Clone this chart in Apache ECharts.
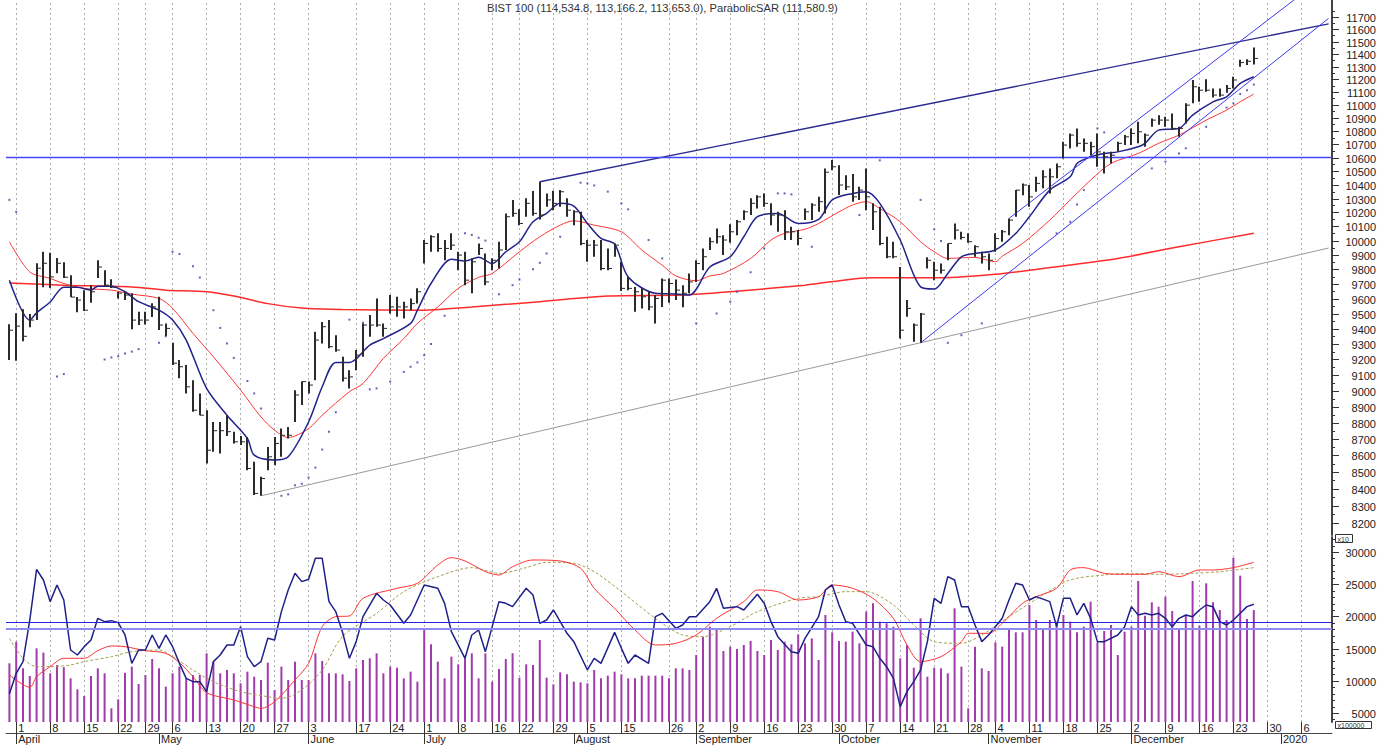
<!DOCTYPE html>
<html lang="en">
<head>
<meta charset="utf-8"/>
<title>BIST 100</title>
<script src="https://cdn.jsdelivr.net/npm/echarts@6/dist/echarts.min.js"></script>
<style>
    html, body { margin: 0; padding: 0; background: #fff; }
    #main { width: 1390px; height: 747px; }
</style>
</head>
<body>
<div id="main"></div>
<script>
    // trading days (Turkish holidays left out), future days at the end
    var monthDays = [
        ['2019-03', [29]],
        ['2019-04', [1, 2, 3, 4, 5, 8, 9, 10, 11, 12, 15, 16, 17, 18, 19, 22, 24, 25, 26, 29, 30]],
        ['2019-05', [2, 3, 6, 7, 8, 9, 10, 13, 14, 15, 16, 17, 20, 21, 22, 23, 24, 27, 28, 29, 30, 31]],
        ['2019-06', [3, 4, 10, 11, 12, 13, 14, 17, 18, 19, 20, 21, 24, 25, 26, 27, 28]],
        ['2019-07', [1, 2, 3, 4, 5, 8, 9, 10, 11, 12, 16, 17, 18, 19, 22, 23, 24, 25, 26, 29, 30, 31]],
        ['2019-08', [1, 2, 5, 6, 7, 8, 9, 15, 16, 19, 20, 21, 22, 23, 26, 27, 28, 29]],
        ['2019-09', [2, 3, 4, 5, 6, 9, 10, 11, 12, 13, 16, 17, 18, 19, 20, 23, 24, 25, 26, 27, 30]],
        ['2019-10', [1, 2, 3, 4, 7, 8, 9, 10, 11, 14, 15, 16, 17, 18, 21, 22, 23, 24, 25, 28, 30, 31]],
        ['2019-11', [1, 4, 5, 6, 7, 8, 11, 12, 13, 14, 15, 18, 19, 20, 21, 22, 25, 26, 27, 28, 29]],
        ['2019-12', [2, 3, 4, 5, 6, 9, 10, 11, 12, 13, 16, 17, 18, 19, 20, 23, 24, 25, 26, 27, 30, 31]],
        ['2020-01', [1, 2, 3, 6, 7, 8, 9, 10]]
    ];

    var weekTicks = ['2019-04-01', '2019-04-08', '2019-04-15', '2019-04-22', '2019-04-29', '2019-05-06',
        '2019-05-13', '2019-05-20', '2019-05-27', '2019-06-03', '2019-06-17', '2019-06-24', '2019-07-01',
        '2019-07-08', '2019-07-16', '2019-07-22', '2019-07-29', '2019-08-05', '2019-08-15', '2019-08-26',
        '2019-09-02', '2019-09-09', '2019-09-16', '2019-09-23', '2019-09-30', '2019-10-07', '2019-10-14',
        '2019-10-21', '2019-10-28', '2019-11-04', '2019-11-11', '2019-11-18', '2019-11-25', '2019-12-02',
        '2019-12-09', '2019-12-16', '2019-12-23', '2019-12-30', '2020-01-06'];
    var monthTicks = ['2019-04-01', '2019-05-02', '2019-06-03', '2019-07-01', '2019-08-01', '2019-09-02',
        '2019-10-01', '2019-11-01', '2019-12-02', '2020-01-01'];
    var monthNames = ['April', 'May', 'June', 'July', 'August', 'September', 'October', 'November', 'December', '2020'];

    var priceTicks = [8200, 8300, 8400, 8500, 8600, 8700, 8800, 8900, 9000, 9100, 9200, 9300, 9400, 9500,
        9600, 9700, 9800, 9900, 10000, 10100, 10200, 10300, 10400, 10500, 10600, 10700, 10800, 10900,
        11000, 11100, 11200, 11300, 11400, 11500, 11600, 11700];
    var volTicks = [5000, 10000, 15000, 20000, 25000, 30000];

    // daily bars (x10), Mar 29 .. Dec 26
    var highs = [9430, 9503, 9530, 9497, 9842, 9922, 9915, 9878, 9849, 9760,
        9611, 9658, 9692, 9863, 9794, 9732, 9647, 9647, 9637, 9512,
        9512, 9570, 9613, 9435, 9307, 9195, 9163, 9066, 8982, 8877,
        8804, 8804, 8846, 8744, 8717, 8712, 8561, 8471, 8651, 8712,
        8763, 8773, 9003, 9057, 9057, 9380, 9445, 9457, 9357, 9216,
        9130, 9260, 9435, 9490, 9602, 9435, 9625, 9613, 9580, 9602,
        9670, 10004, 10038, 10051, 10004, 10051, 9922, 9922, 9876, 9980,
        9910, 9876, 9992, 10193, 10290, 10222, 10301, 10354, 10422, 10337,
        10356, 10361, 10301, 10216, 10204, 10004, 10004, 10004, 9945, 9980,
        9852, 9748, 9680, 9670, 9647, 9625, 9738, 9738, 9731, 9692,
        9772, 9863, 9945, 10022, 10086, 10038, 10116, 10145, 10216, 10301,
        10324, 10337, 10265, 10204, 10216, 10097, 10074, 10228, 10265, 10312,
        10520, 10582, 10544, 10470, 10478, 10385, 10520, 10265, 10240, 10027,
        9992, 9816, 9591, 9435, 9505, 9883, 9852, 9840, 9980, 10121,
        10062, 10051, 9968, 9922, 9910, 10051, 10074, 10157, 10361, 10410,
        10398, 10458, 10507, 10520, 10557, 10719, 10782, 10820, 10744, 10719,
        10782, 10643, 10643, 10719, 10769, 10820, 10870, 10782, 10896, 10921,
        10908, 10934, 10832, 11012, 11194, 11141, 11199, 11128, 11128, 11154,
        11220, 11354, 11359, 11453];
    var lows = [9195, 9190, 9318, 9410, 9457, 9678, 9672, 9774, 9740, 9611,
        9510, 9517, 9572, 9740, 9680, 9672, 9602, 9591, 9397, 9424,
        9428, 9477, 9391, 9352, 9163, 9078, 8982, 8867, 8846, 8551,
        8621, 8611, 8717, 8672, 8662, 8511, 8363, 8359, 8511, 8541,
        8591, 8702, 8804, 8909, 8982, 9066, 9303, 9271, 9249, 9057,
        9014, 9130, 9216, 9347, 9413, 9347, 9501, 9479, 9468, 9523,
        9567, 9840, 9922, 9922, 9863, 9934, 9794, 9692, 9637, 9899,
        9692, 9794, 9806, 9934, 10169, 10109, 10169, 10176, 10150, 10240,
        10216, 10240, 10169, 10109, 9968, 9852, 9887, 9794, 9794, 9887,
        9653, 9658, 9512, 9535, 9523, 9435, 9545, 9572, 9591, 9542,
        9637, 9714, 9794, 9934, 9980, 9899, 9985, 10038, 10145, 10181,
        10228, 10240, 10109, 10062, 10004, 10004, 9968, 10145, 10145, 10204,
        10193, 10507, 10325, 10361, 10277, 10290, 10216, 10074, 9968, 9876,
        9876, 9335, 9479, 9314, 9307, 9806, 9726, 9772, 9863, 10008,
        10008, 9985, 9887, 9840, 9794, 9922, 9992, 10038, 10169, 10324,
        10240, 10349, 10374, 10337, 10447, 10594, 10669, 10682, 10643, 10618,
        10532, 10483, 10557, 10643, 10694, 10694, 10707, 10682, 10832, 10847,
        10832, 10807, 10756, 10858, 11012, 11024, 11102, 11058, 11063, 11094,
        11128, 11298, 11312, 11317];
    var closes = [9390, 9417, 9350, 9457, 9808, 9842, 9748, 9842, 9746, 9611,
        9591, 9523, 9647, 9816, 9692, 9678, 9638, 9625, 9457, 9457,
        9457, 9545, 9424, 9402, 9175, 9152, 9024, 8877, 8846, 8631,
        8750, 8750, 8744, 8682, 8682, 8521, 8373, 8461, 8591, 8672,
        8722, 8722, 8972, 9057, 9035, 9325, 9413, 9282, 9260, 9079,
        9087, 9227, 9424, 9424, 9424, 9402, 9545, 9545, 9545, 9567,
        9647, 9980, 10027, 9945, 9945, 9968, 9899, 9726, 9852, 9945,
        9714, 9863, 9934, 10169, 10193, 10121, 10265, 10193, 10181, 10290,
        10265, 10349, 10216, 10204, 9980, 9968, 9968, 9806, 9806, 9968,
        9670, 9670, 9647, 9613, 9545, 9602, 9726, 9703, 9658, 9637,
        9714, 9840, 9887, 9992, 10027, 10004, 10062, 10133, 10204, 10265,
        10312, 10265, 10181, 10181, 10062, 10062, 10015, 10204, 10253, 10277,
        10492, 10532, 10398, 10385, 10312, 10361, 10312, 10204, 9980, 9887,
        9887, 9390, 9535, 9424, 9497, 9863, 9794, 9794, 9980, 10074,
        10022, 9992, 9957, 9887, 9863, 10015, 10062, 10145, 10361, 10398,
        10312, 10410, 10458, 10458, 10532, 10694, 10769, 10707, 10707, 10682,
        10643, 10606, 10618, 10707, 10756, 10782, 10794, 10769, 10883, 10883,
        10883, 10820, 10820, 10998, 11141, 11114, 11114, 11076, 11076, 11128,
        11194, 11332, 11342, 11365];

    // moving averages: [day index, value]
    var maFast = [[0, 9725], [3, 9457], [4, 9505], [6, 9578], [8, 9678], [10, 9678], [12, 9658], [13, 9685],
        [15, 9685], [17, 9647], [19, 9580], [22, 9523], [24, 9457], [26, 9325], [29, 9014], [32, 8846],
        [35, 8703], [36, 8601], [39, 8572], [41, 8591], [44, 8804], [46, 9024], [48, 9180], [50, 9180],
        [53, 9292], [55, 9335], [59, 9435], [60, 9523], [62, 9703], [65, 9870], [67, 9858], [69, 9883],
        [71, 9840], [73, 9922], [75, 9992], [77, 10133], [79, 10193], [81, 10265], [83, 10245], [85, 10121],
        [87, 10015], [89, 9976], [91, 9748], [95, 9637], [98, 9632], [100, 9625], [103, 9816], [106, 9887],
        [108, 10027], [110, 10169], [113, 10193], [116, 10121], [119, 10150], [121, 10290], [124, 10337],
        [126, 10349], [128, 10265], [131, 10004], [134, 9680], [136, 9665], [138, 9772], [140, 9887],
        [142, 9910], [145, 9934], [148, 10051], [150, 10169], [153, 10361], [156, 10458], [157, 10557],
        [159, 10606], [161, 10631], [163, 10643], [166, 10682], [167, 10707], [169, 10807], [172, 10820],
        [174, 10921], [177, 11024], [179, 11063], [181, 11167], [183, 11220]];
    var maMid = [[0, 9992], [3, 9782], [6, 9738], [8, 9703], [11, 9670], [15, 9658], [18, 9631], [22, 9602],
        [24, 9535], [27, 9369], [30, 9216], [34, 9003], [37, 8835], [39, 8753], [41, 8708], [44, 8763],
        [46, 8846], [50, 8993], [52, 9045], [55, 9206], [58, 9335], [60, 9435], [63, 9545], [66, 9670],
        [69, 9745], [71, 9772], [75, 9922], [78, 10027], [81, 10109], [83, 10140], [86, 10109], [90, 10062],
        [93, 9934], [96, 9829], [98, 9755], [101, 9722], [103, 9755], [105, 9772], [109, 9875], [112, 10004],
        [114, 10051], [117, 10080], [119, 10121], [122, 10204], [124, 10253], [126, 10277], [128, 10228],
        [131, 10133], [134, 9992], [136, 9922], [138, 9876], [142, 9883], [145, 9852], [146, 9891],
        [149, 9980], [153, 10145], [156, 10290], [159, 10434], [162, 10557], [166, 10631], [169, 10707],
        [172, 10769], [176, 10883], [179, 10960], [181, 11024], [183, 11084]];
    var maLong = [[0, 9707], [8, 9692], [18, 9680], [23, 9658], [29, 9647], [33, 9618], [38, 9567],
        [43, 9537], [49, 9527], [60, 9523], [68, 9545], [78, 9580], [88, 9618], [99, 9625], [106, 9647],
        [117, 9692], [127, 9743], [137, 9743], [145, 9766], [152, 9806], [163, 9875], [172, 9957], [183, 10051]];

    var sarDots = [[0, 10290], [1, 10204], [7, 9090], [8, 9105], [14, 9199], [15, 9212], [16, 9220],
        [17, 9238], [18, 9250], [19, 9266], [22, 9307], [23, 9350], [24, 9922], [25, 9906], [27, 9822],
        [28, 9744], [30, 9523], [31, 9405], [32, 9303], [33, 9209], [35, 9061], [36, 8982], [37, 8888],
        [40, 8359], [41, 8367], [42, 8421], [43, 8430], [44, 8467], [45, 8526], [46, 8635], [47, 8744],
        [48, 8864], [50, 9460], [52, 9440], [53, 9008], [54, 9014], [56, 9057], [58, 9119], [59, 9152],
        [60, 9180], [61, 9227], [62, 9299], [64, 9486], [67, 10051], [68, 10040], [69, 10020], [70, 10000],
        [72, 9631], [74, 9692], [75, 9730], [77, 9800], [78, 9845], [79, 9910], [81, 10027], [84, 10415],
        [85, 10410], [86, 10395], [88, 10350], [90, 10265], [91, 10222], [94, 10004], [96, 9876],
        [101, 9435], [104, 9501], [106, 9580], [107, 9647], [109, 9780], [111, 9945], [113, 10337],
        [114, 10337], [115, 10330], [118, 9957], [125, 10181], [128, 10580], [134, 10290], [136, 10080],
        [137, 9998], [138, 9307], [140, 9357], [143, 9435], [154, 10051], [156, 10133], [157, 10256],
        [158, 10361], [160, 10820], [161, 10790], [168, 10520], [170, 10570], [172, 10631], [173, 10670],
        [176, 10832], [179, 10979], [180, 11012], [181, 11084], [182, 11114], [183, 11158]];

    // drawn trend lines: [day index, price]
    var trendTop = [[78, 10422], [194, 11645]];
    var trendBase = [[37, 8359], [194, 9948]];
    var channelLow = [[134, 9307], [194, 11689]];
    var channelHigh = [[147, 10157], [189, 11845]];
    var levelLine = 10600;

    // lower panel
    var volume = [12713, 16078, 11936, 10746, 15043, 14370, 11160, 12454, 12092, 10383,
        8675, 7639, 10746, 11936, 11160, 5724, 7122, 11263, 12195, 9503,
        10901, 13386, 11936, 9089, 11160, 12195, 10383, 10901, 10901, 14266,
        12972, 11160, 11677, 11160, 9607, 11419, 10642, 10125, 12817, 8571,
        12195, 10125, 12972, 10125, 10125, 14266, 13076, 11160, 11160, 11004,
        9969, 11936, 13230, 13489, 14266, 11160, 12195, 12040, 10383, 11419,
        9866, 17890, 15664, 12972, 10383, 13748, 12557, 13489, 14266, 10383,
        14266, 9866, 11833, 13386, 14266, 10487, 12557, 12454, 16336, 10487,
        9452, 11315, 11004, 9866, 9762, 9607, 11678, 10383, 10797, 11419,
        11004, 10383, 10383, 10797, 10797, 10797, 10797, 10383, 11936, 11936,
        11678, 14007, 16854, 18407, 18045, 14628, 15301, 14939, 15560, 16181,
        14628, 14007, 16336, 14784, 16078, 15664, 17217, 15819, 16595, 13230,
        20220, 17527, 16181, 16078, 17631, 15819, 20737, 22031, 19184, 18925,
        18407, 13489, 15560, 12040, 19702, 10642, 12040, 11936, 11160, 21255,
        12195, 5724, 15301, 11936, 11522, 15974, 15301, 17890, 17527, 17527,
        21772, 19443, 18148, 19443, 19184, 20220, 19184, 17527, 18407, 22290,
        15974, 17734, 18666, 14007, 17631, 18407, 25500, 20116, 22187, 21514,
        23067, 20841, 18148, 20220, 25500, 18563, 25137, 22187, 20996, 19443,
        29124, 26328, 19598, 20996];
    var volLine = [[0, 8000], [1, 11160], [2, 12972], [3, 19443], [4, 27312], [5, 25656], [6, 22290],
        [7, 24879], [8, 22549], [9, 14784], [10, 14007], [11, 15301], [12, 16336], [13, 19702], [14, 19184],
        [15, 19339], [16, 19029], [17, 17114], [18, 12713], [19, 14784], [20, 14784], [21, 17114], [22, 15043],
        [23, 17114], [24, 15301], [25, 12713], [26, 10383], [27, 9865], [28, 9865], [29, 8312], [30, 12972],
        [31, 14007], [32, 15560], [33, 15560], [34, 18408], [35, 13748], [36, 12195], [37, 12972], [38, 16595],
        [39, 16336], [40, 20738], [41, 24102], [42, 26690], [43, 25397], [44, 25759], [45, 29021], [46, 29021],
        [47, 22290], [48, 20738], [49, 17500], [50, 13489], [51, 16078], [52, 19960], [54, 23585], [55, 22549],
        [56, 21772], [58, 18925], [59, 20220], [61, 24879], [63, 24361], [64, 22031], [65, 17631], [67, 13489],
        [68, 17114], [69, 17890], [70, 14525], [72, 22290], [73, 22031], [74, 21514], [76, 24361], [77, 23325],
        [78, 18925], [79, 19443], [80, 20996], [82, 17372], [83, 16078], [85, 11678], [86, 13489], [87, 12713],
        [89, 17527], [90, 15042], [91, 12713], [92, 14007], [94, 12713], [95, 19960], [96, 20478], [98, 18148],
        [99, 18666], [100, 19960], [101, 19960], [103, 22290], [104, 24361], [105, 21255], [107, 21514],
        [108, 20996], [110, 23429], [111, 22031], [112, 19184], [113, 16854], [115, 14525], [116, 14266],
        [117, 16595], [119, 19960], [120, 24102], [121, 24879], [122, 21772], [123, 19184], [124, 18925],
        [126, 15560], [127, 15301], [128, 13489], [129, 12195], [130, 10383], [131, 5982], [132, 8312],
        [133, 9866], [134, 11678], [135, 16078], [136, 22808], [137, 22031], [138, 26173], [139, 25656],
        [140, 21514], [141, 21514], [142, 18666], [143, 16078], [144, 17114], [146, 19702], [147, 22549],
        [148, 25138], [149, 24879], [150, 22549], [151, 23067], [153, 22290], [154, 18407], [155, 22808],
        [156, 22808], [157, 20220], [158, 22031], [159, 19702], [160, 16078], [161, 16078], [163, 17114],
        [164, 18407], [165, 21514], [166, 20220], [167, 20478], [168, 20220], [169, 20478], [170, 19702],
        [171, 18407], [172, 19702], [173, 20220], [174, 19960], [175, 20996], [176, 21772], [177, 21514],
        [178, 19184], [179, 18666], [180, 19443], [181, 20478], [182, 21514], [183, 21876]];
    var volAvgA = [[0, 10901], [3, 8986], [4, 10642], [6, 12195], [8, 13490], [11, 13490], [13, 14680],
        [15, 15405], [17, 15301], [20, 14680], [23, 14266], [25, 12817], [27, 10642], [29, 8157], [33, 7018],
        [36, 5983], [37, 5724], [39, 6760], [42, 10125], [44, 12713], [46, 18408], [48, 19961], [50, 20065],
        [52, 22808], [57, 24361], [60, 25138], [63, 27985], [65, 29124], [67, 28606], [70, 26949], [72, 26432],
        [74, 27726], [77, 28761], [81, 28606], [84, 27467], [86, 24361], [89, 21255], [92, 17890], [95, 15560],
        [98, 15819], [101, 17114], [104, 19702], [108, 22290], [110, 24102], [113, 23843], [116, 22549],
        [119, 23067], [121, 24879], [124, 24361], [127, 22808], [130, 19702], [132, 15560], [134, 12972],
        [137, 13748], [140, 16078], [141, 17372], [144, 17372], [146, 18925], [149, 22031], [151, 23067],
        [154, 24361], [156, 27208], [158, 27571], [161, 26690], [164, 26535], [167, 26535], [169, 26949],
        [172, 26173], [175, 27208], [177, 27208], [180, 27571], [183, 28399]];
    var volAvgB = [[0, 16596], [2, 13490], [4, 12195], [6, 12195], [9, 12454], [11, 12972], [15, 13748],
        [18, 14525], [22, 14784], [24, 13748], [27, 11677], [30, 9865], [34, 8312], [38, 7536], [40, 7277],
        [43, 8571], [46, 11677], [49, 16900], [54, 20478], [58, 23843], [63, 26173], [68, 27571], [72, 26690],
        [76, 27571], [79, 28399], [83, 28243], [86, 26949], [90, 23843], [95, 19702], [99, 17114], [102, 16854],
        [106, 18407], [110, 20737], [116, 22808], [119, 23067], [123, 23843], [126, 23843], [130, 21772],
        [133, 18666], [136, 16078], [140, 15819], [143, 17114], [147, 19960], [152, 23325], [156, 25656],
        [161, 26432], [165, 26690], [169, 26535], [174, 26690], [178, 26949], [183, 27571]];
    var volLevelA = 19133;
    var volLevelB = 18123;

    // ---- build
    var dates = [];
    monthDays.forEach(function (m) {
        m[1].forEach(function (d) { dates.push(m[0] + '-' + (d < 10 ? '0' + d : d)); });
    });
    var weekSet = {}, monthSet = {};
    weekTicks.forEach(function (d) { weekSet[d] = true; });
    monthTicks.forEach(function (d, i) { monthSet[d] = monthNames[i]; });

    var bars = highs.map(function (h, i) { return [i, h, lows[i], closes[i]]; });

    var FONT = '"Liberation Sans", Arial, sans-serif';
    var chart = echarts.init(document.getElementById('main'), null, {renderer: 'svg'});

    function scaleTicks(axisIdx, values, len, label) {
        return {
            type: 'custom', xAxisIndex: axisIdx, yAxisIndex: axisIdx, silent: true, z: 6,
            data: values.map(function (v) { return [0, v]; }),
            encode: {x: 0, y: 1},
            renderItem: function (params, api) {
                var cs = params.coordSys;
                var right = cs.x + cs.width;
                var y = Math.round(api.coord([0, api.value(1)])[1]) + 0.5;
                var kids = [{
                    type: 'line', shape: {x1: right, y1: y, x2: right + len, y2: y},
                    style: {stroke: '#333', lineWidth: 1}
                }];
                if (label) {
                    kids.push({
                        type: 'text',
                        style: {
                            text: String(api.value(1)), x: right + 44, y: y, align: 'right',
                            verticalAlign: 'middle', font: '11px ' + FONT, fill: '#222'
                        }
                    });
                }
                return {type: 'group', children: kids};
            }
        };
    }

    var minorPrice = priceTicks.map(function (v) { return v + 50; });
    var minorVol = [4000, 6000, 7000, 8000, 9000, 11000, 12000, 13000, 14000, 16000, 17000, 18000, 19000,
        21000, 22000, 23000, 24000, 26000, 27000, 28000, 29000, 31000, 32000];

    var weekLines = weekTicks.map(function (d) { return {xAxis: d}; });

    // a line series that may also carry one horizontal level line
    function trend(data, color, width, xi, level, levelStyle) {
        var s = {
            type: 'line', xAxisIndex: xi || 0, yAxisIndex: xi || 0, data: data, symbol: 'none', z: 4,
            lineStyle: {color: color, width: width}, silent: true
        };
        if (level !== undefined) {
            s.markLine = {
                silent: true, symbol: 'none', label: {show: false},
                lineStyle: levelStyle, data: [{yAxis: level}]
            };
        }
        return s;
    }

    var option = {
        animation: false,
        grid: [
            {left: 6, width: 1326, top: 0, height: 535},
            {left: 6, width: 1326, top: 537, height: 185}
        ],
        xAxis: [
            {type: 'category', gridIndex: 0, data: dates, boundaryGap: true, show: false},
            {
                type: 'category', gridIndex: 1, data: dates, boundaryGap: true, position: 'bottom',
                axisLine: {show: false},
                axisTick: {
                    show: true, alignWithLabel: true, length: 11, lineStyle: {color: '#333'},
                    interval: function (i, v) { return !!weekSet[v]; }
                },
                axisLabel: {
                    interval: function (i, v) { return !!weekSet[v]; },
                    formatter: function (v) { return String(+v.slice(8)); },
                    align: 'left', margin: 0, padding: [0, 0, 0, 2], fontSize: 11, fontFamily: FONT, color: '#222'
                },
                splitLine: {show: false}
            },
            {
                type: 'category', gridIndex: 1, data: dates, boundaryGap: true, position: 'bottom', offset: 11,
                axisLine: {show: true, lineStyle: {color: '#444', width: 1}},
                axisTick: {
                    show: true, alignWithLabel: true, length: 11, lineStyle: {color: '#333'},
                    interval: function (i, v) { return !!monthSet[v]; }
                },
                axisLabel: {
                    interval: function (i, v) { return !!monthSet[v]; },
                    formatter: function (v) { return monthSet[v] || ''; },
                    align: 'left', margin: 0, padding: [0, 0, 0, 2], fontSize: 11, fontFamily: FONT, color: '#222'
                },
                splitLine: {show: false}
            }
        ],
        yAxis: [
            {
                type: 'log', gridIndex: 0, min: 8132, max: 11841, position: 'right',
                axisLine: {show: true, lineStyle: {color: '#444', width: 2}},
                axisTick: {show: false}, axisLabel: {show: false}, splitLine: {show: false}
            },
            {
                type: 'value', gridIndex: 1, min: 3602, max: 32329, position: 'right',
                axisLine: {show: true, lineStyle: {color: '#444', width: 2}},
                axisTick: {show: false}, axisLabel: {show: false}, splitLine: {show: false}
            }
        ],
        graphic: [
            {
                type: 'text', left: 487, top: 2,
                style: {
                    text: 'BIST 100 (114,534.8, 113,166.2, 113,653.0), ParabolicSAR (111,580.9)',
                    font: '11.2px ' + FONT, fill: '#333'
                }
            },
            {
                type: 'group', left: 1335, top: 534, children: [
                    {type: 'rect', shape: {x: 0, y: 0, width: 17, height: 8}, style: {fill: '#fff', stroke: '#333', lineWidth: 1}},
                    {type: 'text', style: {text: 'x10', x: 2, y: 1, font: '7px ' + FONT, fill: '#333'}}
                ]
            },
            {
                type: 'group', left: 1335, top: 721, children: [
                    {type: 'rect', shape: {x: 0, y: 0, width: 36, height: 7}, style: {fill: '#fff', stroke: '#333', lineWidth: 1}},
                    {type: 'text', style: {text: 'x100000', x: 2, y: 0, font: '7px ' + FONT, fill: '#333'}}
                ]
            }
        ],
        series: [
            {
                type: 'line', xAxisIndex: 0, yAxisIndex: 0, data: maLong, symbol: 'none', smooth: 0.3, z: 3,
                lineStyle: {color: '#ff2a2a', width: 1.5}, silent: true,
                markLine: {
                    silent: true, symbol: 'none', label: {show: false}, z: 1,
                    lineStyle: {color: '#b0b0b0', type: [2, 3], width: 1},
                    data: weekLines
                }
            },
            {
                type: 'custom', xAxisIndex: 0, yAxisIndex: 0, data: bars, z: 5, silent: true,
                encode: {x: 0, y: [1, 2, 3]},
                renderItem: function (params, api) {
                    var x = api.value(0);
                    var hi = api.coord([x, api.value(1)]);
                    var lo = api.coord([x, api.value(2)]);
                    var cl = api.coord([x, api.value(3)]);
                    var px = Math.round(hi[0]);
                    return {
                        type: 'group', children: [
                            {type: 'line', shape: {x1: px, y1: hi[1], x2: px, y2: lo[1]}, style: {stroke: '#2b2b2b', lineWidth: 2}},
                            {type: 'line', shape: {x1: px, y1: cl[1], x2: px + 4, y2: cl[1]}, style: {stroke: '#2b2b2b', lineWidth: 1}}
                        ]
                    };
                }
            },
            {
                type: 'line', xAxisIndex: 0, yAxisIndex: 0, data: maMid, symbol: 'none', smooth: 0.3, z: 4,
                lineStyle: {color: '#ff3535', width: 1}, silent: true
            },
            {
                type: 'line', xAxisIndex: 0, yAxisIndex: 0, data: maFast, symbol: 'none', smooth: 0.3, z: 4,
                lineStyle: {color: '#22228c', width: 1.5}, silent: true
            },
            {
                type: 'scatter', xAxisIndex: 0, yAxisIndex: 0, data: sarDots, symbol: 'rect', symbolSize: 2, z: 4,
                itemStyle: {color: '#4040a8'}, silent: true
            },
            trend(trendTop, '#2a2a90', 1.3, 0, levelLine, {color: '#4646ff', type: 'solid', width: 1.3}),
            trend(trendBase, '#9a9a9a', 1),
            trend(channelLow, '#3a3af0', 1),
            trend(channelHigh, '#3a3af0', 1),
            scaleTicks(0, priceTicks, 7, true),
            scaleTicks(0, minorPrice, 3, false),
            {
                type: 'bar', xAxisIndex: 1, yAxisIndex: 1, data: volume, barWidth: 2, clip: true, z: 2,
                itemStyle: {color: '#a23cac'}, silent: true,
                markLine: {
                    silent: true, symbol: 'none', label: {show: false}, z: 1,
                    lineStyle: {color: '#b0b0b0', type: [2, 3], width: 1},
                    data: weekLines
                }
            },
            {
                type: 'line', xAxisIndex: 1, yAxisIndex: 1, data: volAvgB, symbol: 'none', smooth: 0.3, z: 3,
                lineStyle: {color: '#a8a050', width: 1, type: [3, 2]}, silent: true,
                markLine: {
                    silent: true, symbol: 'none', label: {show: false},
                    lineStyle: {color: '#8c8cf2', type: 'solid', width: 2}, data: [{yAxis: volLevelB}]
                }
            },
            {
                type: 'line', xAxisIndex: 1, yAxisIndex: 1, data: volAvgA, symbol: 'none', smooth: 0.3, z: 3,
                lineStyle: {color: '#ff3333', width: 1}, silent: true,
                markLine: {
                    silent: true, symbol: 'none', label: {show: false},
                    lineStyle: {color: '#2424dd', type: 'solid', width: 1.2}, data: [{yAxis: volLevelA}]
                }
            },
            {
                type: 'line', xAxisIndex: 1, yAxisIndex: 1, data: volLine, symbol: 'none', z: 4,
                lineStyle: {color: '#20208a', width: 1.5}, silent: true
            },
            scaleTicks(1, volTicks, 7, true),
            scaleTicks(1, minorVol, 3, false)
        ]
    };
    chart.setOption(option);
</script>
</body>
</html>
